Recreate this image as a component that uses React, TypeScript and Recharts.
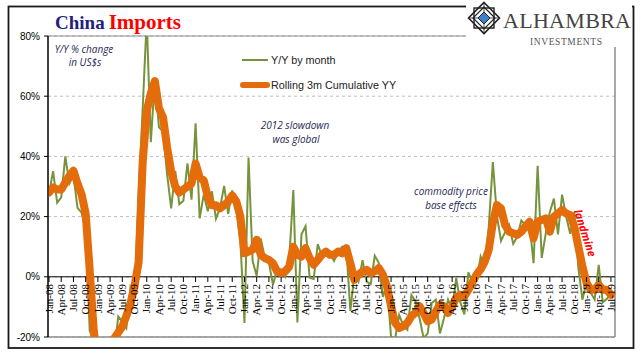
import React from 'react';
import { LineChart, Line, XAxis, YAxis, CartesianGrid, ReferenceLine } from 'recharts';

const tickLabels = [
  'Jan-08', 'Apr-08', 'Jul-08', 'Oct-08', 'Jan-09', 'Apr-09', 'Jul-09', 'Oct-09',
  'Jan-10', 'Apr-10', 'Jul-10', 'Oct-10', 'Jan-11', 'Apr-11', 'Jul-11', 'Oct-11',
  'Jan-12', 'Apr-12', 'Jul-12', 'Oct-12', 'Jan-13', 'Apr-13', 'Jul-13', 'Oct-13',
  'Jan-14', 'Apr-14', 'Jul-14', 'Oct-14', 'Jan-15', 'Apr-15', 'Jul-15', 'Oct-15',
  'Jan-16', 'Apr-16', 'Jul-16', 'Oct-16', 'Jan-17', 'Apr-17', 'Jul-17', 'Oct-17',
  'Jan-18', 'Apr-18', 'Jul-18', 'Oct-18', 'Jan-19', 'Apr-19', 'Jul-19',
];

// Y/Y % change by month, Jan-08 .. Jul-19
const yoyByMonth = [
  27.6, 35.1, 24.6, 26.4, 40.0, 31.0, 33.7, 22.9, 21.3, 15.6, -17.9, -21.3,
  -43.1, -24.1, -25.1, -23.0, -25.2, -13.2, -14.9, -17.0, -3.5, -6.4, 26.7, 55.9,
  85.5, 44.7, 66.0, 49.7, 48.3, 34.1, 22.7, 35.2, 24.1, 25.3, 37.7, 25.6,
  51.0, 19.4, 27.3, 21.8, 28.4, 19.3, 22.9, 30.2, 20.9, 28.7, 22.1, 11.8,
  -15.3, 39.6, 5.3, 0.3, 12.7, 6.3, 4.7, -2.6, 2.4, 2.4, 0.0, 6.0,
  28.8, -15.2, 14.1, 16.8, -0.3, -0.7, 10.9, 7.0, 7.4, 7.6, 5.3, 8.3,
  10.0, 10.1, -11.3, 0.8, -1.6, 5.5, -1.6, -2.4, 7.0, 4.6, -6.7, -2.4,
  -19.9, -20.5, -12.7, -16.2, -17.6, -6.1, -8.1, -13.8, -20.4, -18.8, -8.7, -7.6,
  -18.8, -13.8, -7.6, -10.9, -0.4, -8.4, -12.5, 1.5, -1.9, -1.4, 6.7, 3.1,
  16.7, 38.1, 20.3, 11.9, 14.8, 17.2, 11.0, 13.3, 18.7, 17.2, 17.7, 4.5,
  36.9, 6.3, 14.4, 21.5, 26.0, 14.1, 27.3, 20.0, 14.3, 21.4, 3.0, -7.6,
  -1.5, -5.2, -7.6, 4.0, -8.5, -7.3, -5.6,
];

// Rolling 3m cumulative Y/Y, Jan-08 .. Jul-19
const rolling3m = [
  28, 29.7, 29, 29, 31.3, 33.5, 35.2, 31, 27.4, 21, 2, -18,
  -28, -32, -30, -25, -20.5, -18.5, -16.5, -13, -9, -3, 4.7, 38,
  55, 61, 65, 56, 53, 43, 35, 30, 28, 29, 30, 31,
  37.6, 33, 32, 26.6, 23.8, 23.8, 22.7, 23.8, 25, 27, 25, 20,
  7.8, 8.4, 9, 12.3, 7.3, 6.2, 5.6, 4.5, 1.8, 1.2, 1.8, 3.4,
  10, 7.3, 6.7, 9.5, 6.2, 4, 5.6, 7.3, 8.4, 7.3, 7.3, 8.4,
  7.8, 9.5, 4.5, -1, 0.7, 1.8, 2.3, 1.2, 1.8, 2.9, 0.7, -3.2,
  -9.8, -15.3, -17, -16.4, -15.3, -13.1, -12, -9.8, -12, -14.8, -14.2, -11.5,
  -9.3, -9.8, -12, -9.8, -7, -6, -6.5, -4.3, -1.8, 0.7, 2.5, 5,
  9, 17.8, 23.8, 22.7, 17.2, 15, 14.5, 13.9, 15, 16.7, 18.3, 12.8,
  18.3, 18.9, 19.4, 15, 20, 21, 22.2, 21, 20.5, 16.7, 10, 3.4,
  -2, -4.3, -4.3, -2.6, -4.3, -4.3, -6,
];

const yTicks = [-20, 0, 20, 40, 60, 80];
const xTicks = tickLabels.map((_, k) => k * 3);

const data = yoyByMonth.map((v, i) => ({ i, yoy: v, roll: rolling3m[i] }));

const GREEN = '#77933C';
const ORANGE = '#E46C0A';
const NAVY = '#1F2A56';

function XTick(props: any) {
  const { x, y, payload } = props;
  const label = tickLabels[Math.round(payload.value / 3)];
  const y0 = y - 60; // labels hang from the 0% axis line, not the plot bottom
  return (
    <g>
      <line x1={x} x2={x} y1={y0} y2={y0 + 5} stroke="#000" strokeWidth={1} />
      <text
        transform={`translate(${x},${y0 + 7}) rotate(-90)`}
        textAnchor="end"
        dy="0.33em"
        fontSize={11}
        fontFamily="'Liberation Serif', 'Times New Roman', serif"
        fill="#000"
      >
        {label}
      </text>
    </g>
  );
}

function Logo() {
  const cx = 484;
  const cy = 18;
  const r = 15.5;
  const d = (s: number) => `${cx},${cy - s} ${cx + s},${cy} ${cx},${cy + s} ${cx - s},${cy}`;
  return (
    <g>
      <rect x={466} y={0} width={166} height={47} fill="#fff" />
      <polygon points={d(r)} fill="#fff" stroke="#222" strokeWidth={1.6} />
      <rect x={cx - 10} y={cy - 10} width={20} height={20} fill="none" stroke="#222" strokeWidth={1.4} />
      <polygon points={d(11)} fill="none" stroke="#222" strokeWidth={1.2} />
      <line x1={cx - r} y1={cy} x2={cx + r} y2={cy} stroke="#222" strokeWidth={0.8} />
      <line x1={cx} y1={cy - r} x2={cx} y2={cy + r} stroke="#222" strokeWidth={0.8} />
      <polygon points={d(6)} fill="#3F7FCC" stroke="#222" strokeWidth={1} />
      <text x={503} y={28} fontSize={22} fontFamily="'Liberation Serif', 'Times New Roman', serif" fill="#444" letterSpacing={0.3}>
        ALHAMBRA
      </text>
      <text x={530} y={45} fontSize={9.5} fontFamily="'Liberation Serif', 'Times New Roman', serif" fill="#555" letterSpacing={0.6}>
        INVESTMENTS
      </text>
    </g>
  );
}

export default function App() {
  return (
    <div style={{ position: 'absolute', left: 0, top: 0, width: 641, height: 361, background: '#fff' }}>
      <LineChart
        width={641}
        height={361}
        data={data}
        margin={{ top: 36, right: 26, bottom: 0, left: 0 }}
      >
        <CartesianGrid vertical={false} stroke="#BDBDBD" strokeDasharray="3 3" />
        <XAxis
          dataKey="i"
          type="number"
          domain={[-0.25, 139]}
          ticks={xTicks}
          interval={0}
          height={24}
          tickSize={0}
          tickMargin={0}
          axisLine={false}
          tickLine={false}
          tick={<XTick />}
          allowDataOverflow
        />
        <YAxis
          type="number"
          domain={[-20, 80]}
          ticks={yTicks}
          width={48}
          allowDataOverflow
          tickFormatter={(v: number) => `${v}%`}
          tick={{ fontSize: 10, fill: '#000', fontFamily: "'Liberation Sans', Arial, sans-serif" }}
          tickSize={4}
          tickMargin={4}
          axisLine={{ stroke: '#000', strokeWidth: 1 }}
          tickLine={{ stroke: '#000' }}
        />
        <ReferenceLine y={80} stroke="#8C8C8C" strokeWidth={1} />
        <ReferenceLine y={-20} stroke="#8C8C8C" strokeWidth={1.5} />
        <ReferenceLine x={139} stroke="#8C8C8C" strokeWidth={1.5} />
        <ReferenceLine x={-0.25} stroke="#000" strokeWidth={1} />
        <ReferenceLine y={0} stroke="#000" strokeWidth={1} />
        <Line
          type="linear"
          dataKey="yoy"
          stroke={GREEN}
          strokeWidth={2}
          dot={false}
          isAnimationActive={false}
        />
        <Line
          type="linear"
          dataKey="roll"
          stroke={ORANGE}
          strokeWidth={8}
          strokeLinejoin="round"
          strokeLinecap="round"
          dot={false}
          isAnimationActive={false}
        />
      </LineChart>
      <svg
        width={641}
        height={361}
        style={{ position: 'absolute', left: 0, top: 0, pointerEvents: 'none' }}
      >
        <rect x={8.5} y={6.5} width={625} height={341.5} fill="none" stroke="#1a1a1a" strokeWidth={1.8} />
        <Logo />
        <text x={55} y={29} fontFamily="'Liberation Serif', 'Times New Roman', serif" fontWeight="bold">
          <tspan fill="#22227A" fontSize={19}>China</tspan>
          <tspan fill="#FF0000" fontSize={21} dx={4}>Imports</tspan>
        </text>
        <g fontFamily="'Open Sans', 'DejaVu Sans', sans-serif" fontStyle="italic" fontSize={10} fill={NAVY} textAnchor="middle">
          <text x={84} y={53}>Y/Y % change</text>
          <text x={85} y={66}>in US$s</text>
          <text x={295} y={129}>2012 slowdown</text>
          <text x={296} y={143}>was global</text>
          <text x={451} y={195}>commodity price</text>
          <text x={451} y={209}>base effects</text>
        </g>
        <text
          transform="translate(585,233) rotate(72)"
          textAnchor="middle"
          dy="0.35em"
          fontFamily="'Open Sans', 'DejaVu Sans', sans-serif"
          fontStyle="italic"
          fontWeight="bold"
          fontSize={11}
          fill="#FF0000"
        >
          landmine
        </text>
        <g fontFamily="'Liberation Sans', Arial, sans-serif" fontSize={10.8} fill="#222">
          <line x1={242} x2={268} y1={60} y2={60} stroke={GREEN} strokeWidth={2} />
          <text x={271} y={60} dy="0.35em">Y/Y by month</text>
          <line x1={243} x2={267} y1={85} y2={85} stroke={ORANGE} strokeWidth={6} strokeLinecap="round" />
          <text x={271} y={85} dy="0.35em">Rolling 3m Cumulative YY</text>
        </g>
      </svg>
    </div>
  );
}
